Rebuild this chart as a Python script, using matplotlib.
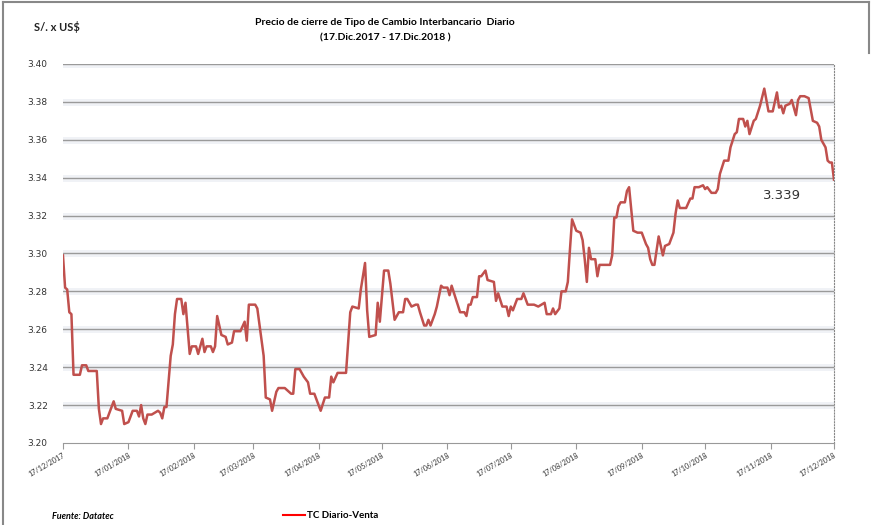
import pandas as pd
import matplotlib
matplotlib.use('Agg')
import matplotlib.pyplot as plt
import matplotlib.dates as mdates
from matplotlib.lines import Line2D

# Tipo de cambio interbancario diario
start = pd.Timestamp('2017-12-17')
days = [0, 1, 2, 3, 4, 5, 8, 9, 11, 12,
        16, 17, 18, 19, 21, 24, 25, 28, 29, 31,
        33, 35, 36, 37, 38, 39, 40, 42, 45, 46,
        47, 48, 49, 51, 52, 53, 54, 56, 57, 58,
        60, 61, 63, 64, 66, 67, 68, 70, 71, 72,
        73, 75, 77, 78, 80, 81, 84, 86, 87, 88,
        91, 92, 95, 96, 98, 99, 101, 102, 105, 107,
        108, 109, 110, 112, 114, 116, 117, 119, 121, 122,
        124, 126, 127, 128, 130, 134, 136, 137, 140, 141,
        143, 144, 145, 148, 149, 150, 152, 154, 155, 157,
        159, 161, 162, 163, 165, 167, 168, 169, 171, 172,
        173, 174, 176, 177, 179, 180, 182, 183, 184, 186,
        188, 190, 191, 192, 193, 194, 196, 197, 198, 200,
        201, 204, 205, 206, 208, 210, 211, 212, 213, 215,
        217, 218, 220, 223, 225, 228, 229, 231, 232, 233,
        235, 236, 238, 239, 240, 241, 243, 245, 246, 247,
        248, 249, 250, 252, 253, 254, 259, 260, 261, 262,
        263, 264, 266, 267, 268, 270, 272, 274, 276, 277,
        278, 279, 280, 282, 284, 285, 287, 289, 290, 291,
        292, 295, 297, 298, 299, 301, 303, 304, 305, 307,
        309, 310, 311, 313, 315, 316, 318, 319, 320, 322,
        323, 324, 325, 327, 328, 330, 332, 334, 336, 338,
        339, 340, 341, 342, 344, 345, 347, 348, 349, 351,
        353, 355, 357, 358, 359, 361, 362, 363, 364, 365]
tc_venta = [3.299, 3.282, 3.281, 3.269, 3.268, 3.236, 3.236, 3.241, 3.241, 3.238,
            3.238, 3.218, 3.210, 3.213, 3.213, 3.222, 3.218, 3.217, 3.210, 3.211,
            3.217, 3.217, 3.214, 3.220, 3.213, 3.210, 3.215, 3.215, 3.217, 3.216,
            3.213, 3.219, 3.219, 3.246, 3.252, 3.268, 3.276, 3.276, 3.268, 3.274,
            3.247, 3.251, 3.251, 3.247, 3.255, 3.248, 3.251, 3.251, 3.248, 3.251,
            3.267, 3.257, 3.256, 3.252, 3.253, 3.259, 3.259, 3.264, 3.254, 3.273,
            3.273, 3.271, 3.246, 3.224, 3.223, 3.217, 3.227, 3.229, 3.229, 3.227,
            3.226, 3.226, 3.239, 3.239, 3.235, 3.232, 3.226, 3.226, 3.220, 3.217,
            3.224, 3.224, 3.235, 3.232, 3.237, 3.237, 3.269, 3.272, 3.271, 3.281,
            3.295, 3.270, 3.256, 3.257, 3.274, 3.264, 3.291, 3.291, 3.284, 3.265,
            3.269, 3.269, 3.276, 3.276, 3.272, 3.273, 3.273, 3.269, 3.262, 3.262,
            3.265, 3.262, 3.268, 3.272, 3.283, 3.282, 3.282, 3.278, 3.283, 3.276,
            3.269, 3.269, 3.267, 3.273, 3.273, 3.277, 3.277, 3.288, 3.288, 3.291,
            3.286, 3.285, 3.275, 3.279, 3.272, 3.272, 3.267, 3.272, 3.270, 3.276,
            3.276, 3.279, 3.273, 3.273, 3.272, 3.274, 3.268, 3.268, 3.271, 3.268,
            3.271, 3.280, 3.280, 3.285, 3.302, 3.318, 3.312, 3.311, 3.307, 3.297,
            3.285, 3.303, 3.297, 3.297, 3.288, 3.294, 3.294, 3.299, 3.319, 3.319,
            3.325, 3.327, 3.327, 3.333, 3.335, 3.312, 3.311, 3.311, 3.305, 3.303,
            3.297, 3.294, 3.294, 3.309, 3.299, 3.304, 3.305, 3.311, 3.321, 3.328,
            3.324, 3.324, 3.329, 3.329, 3.335, 3.335, 3.336, 3.334, 3.335, 3.332,
            3.332, 3.334, 3.342, 3.349, 3.349, 3.356, 3.363, 3.364, 3.371, 3.371,
            3.367, 3.370, 3.363, 3.370, 3.371, 3.378, 3.387, 3.375, 3.375, 3.385,
            3.377, 3.378, 3.374, 3.378, 3.379, 3.381, 3.373, 3.381, 3.383, 3.383,
            3.382, 3.370, 3.369, 3.367, 3.360, 3.356, 3.349, 3.348, 3.348, 3.339]
assert len(days) == len(tc_venta)

fechas = start + pd.to_timedelta(days, unit='D')
ticks = pd.date_range('2017-12-17', '2018-12-17', freq='MS') + pd.Timedelta(days=16)
ticks = [start] + list(ticks[ticks > start])
y_ticks = [3.20, 3.22, 3.24, 3.26, 3.28, 3.30, 3.32, 3.34, 3.36, 3.38, 3.40]

fig = plt.figure(figsize=(8.71, 5.25), dpi=100)
ax = fig.add_axes([0.0723, 0.1562, 0.8852, 0.7219])

for y in y_ticks[1:]:
    ax.axhline(y, color='#f0f2f6', lw=5, zorder=0)
    ax.axhline(y, color='#9a9a9a', lw=1.0, zorder=1)

ax.plot(fechas, tc_venta, color='#c0504d', lw=1.8, zorder=3)

ax.set_xlim(start, pd.Timestamp('2018-12-17'))
ax.set_ylim(3.20, 3.40)
ax.set_yticks(y_ticks)
ax.set_yticklabels([f'{v:.2f}' for v in y_ticks], fontsize=6.5, color='#333333')
ax.set_xticks(ticks)
ax.xaxis.set_major_formatter(mdates.DateFormatter('%d/%m/%Y'))
for lab in ax.get_xticklabels():
    lab.set_rotation(30)
    lab.set_ha('right')
    lab.set_rotation_mode('anchor')
    lab.set_fontsize(5.2)
    lab.set_family('Lato')
    lab.set_color('#333333')

for s in ['top', 'left']:
    ax.spines[s].set_visible(False)
ax.spines['bottom'].set_color('#999999')
ax.spines['right'].set_linestyle(':')
ax.spines['right'].set_color('#888888')
ax.tick_params(axis='y', length=0, pad=11)
ax.tick_params(axis='x', length=4, color='#999999', pad=2)

ax.annotate('3.339', xy=(0.9326, 0.652), xycoords='axes fraction',
            fontsize=9.5, color='#333333', ha='center', va='center')

fig.text(0.039, 0.949, 'S/. x US$', fontsize=8, fontweight='bold', family='Lato',
         color='#222222', va='center')
fig.text(0.442, 0.957, 'Precio de cierre de Tipo de Cambio Interbancario  Diario',
         fontsize=7.5, fontweight='bold', family='Lato', ha='center', va='center')
fig.text(0.442, 0.927, '(17.Dic.2017 - 17.Dic.2018 )',
         fontsize=7.5, fontweight='bold', family='Lato', ha='center', va='center')
fig.text(0.06, 0.012, 'Fuente: Datatec', fontsize=6.5, fontweight='bold',
         style='italic', family='Lato')

handle = Line2D([], [], color='#ff0000', lw=1.5)
fig.legend([handle], ['TC Diario-Venta'], loc='center left', bbox_to_anchor=(0.315, 0.018),
           frameon=False, prop={'family': 'Lato', 'weight': 'bold', 'size': 7},
           handlelength=2.2, handletextpad=0.3)

# marco del grafico
fig.add_artist(Line2D([0.004, 0.004], [0, 0.996], color='#888888', lw=1.5))
fig.add_artist(Line2D([0.004, 0.998], [0.996, 0.996], color='#888888', lw=1.5))
fig.add_artist(Line2D([0.998, 0.998], [0.9, 0.996], color='#888888', lw=1.5))

fig.savefig('out.png', dpi=100)
